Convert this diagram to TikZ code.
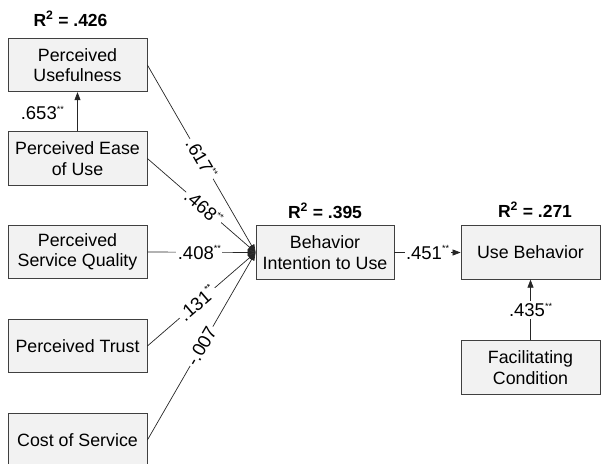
\documentclass[tikz,border=0pt]{standalone}
\usepackage{fontspec}
\setmainfont{Liberation Sans}
\usetikzlibrary{arrows.meta}
\definecolor{boxfill}{HTML}{F2F2F2}
\definecolor{boxline}{HTML}{404040}
\newcommand{\twostar}{\raisebox{0.42em}{\fontsize{9}{9}\selectfont **}}
\begin{document}
\begin{tikzpicture}[x=1pt,y=-1pt,
  box/.style={draw=boxline, fill=boxfill, line width=0.8pt, minimum width=139pt, minimum height=53.5pt, align=center, font=\fontsize{17.8}{20.5}\selectfont, inner sep=0pt},
  lab/.style={font=\fontsize{18.5}{20}\selectfont, fill=white, inner sep=1.5pt},
  conn/.style={line width=0.7pt, draw=black!85, -{Triangle[length=8pt,width=6pt]}},
  rsq/.style={font=\bfseries\fontsize{17.5}{20}\selectfont, anchor=base}]
\useasboundingbox (0,0) rectangle (601,463);
\node[box] (PU) at (77.5,65) {Perceived\\Usefulness};
\node[box] (PEOU) at (77.5,158.5) {Perceived Ease\\of Use};
\node[box] (PSQ) at (77.5,252) {Perceived\\Service Quality};
\node[box] (PT) at (77.5,346) {Perceived Trust};
\node[box] (CS) at (77.5,440) {Cost of Service};
\node[box, minimum width=138pt] (BI) at (325,252.5) {Behavior\\Intention to Use};
\node[box] (UB) at (530.5,252.5) {Use Behavior};
\node[box] (FC) at (530.5,367.5) {Facilitating\\Condition};

\node[rsq] (r1) at (70.5,26) {R\textsuperscript{2} = .426};
\node[rsq] (r2) at (325,218) {R\textsuperscript{2} = .395};
\node[rsq] (r3) at (535,217) {R\textsuperscript{2} = .271};

\draw[conn] (PU.east) -- node[lab,sloped,pos=0.5]{.617\twostar} (BI.west);
\draw[conn] (PEOU.east) -- node[lab,sloped,pos=0.52]{.468\twostar} (BI.west);
\draw[conn] (PSQ.east) -- node[lab,pos=0.48]{.408\twostar} (BI.west);
\draw[conn] (PT.east) -- node[lab,sloped,pos=0.46]{.131\twostar} (BI.west);
\draw[conn] (CS.east) -- node[lab,sloped,pos=0.5]{-.007} (BI.west);

\draw[conn] (PEOU.north) -- (PU.south);
\node[font=\fontsize{18.5}{20}\selectfont, anchor=east, inner sep=0pt] (l653) at (64,113) {.653\twostar};
\draw[conn] (BI.east) -- node[lab]{.451\twostar} (UB.west);
\draw[conn] (FC.north) -- node[lab]{.435\twostar} (UB.south);
\end{tikzpicture}
\end{document}
